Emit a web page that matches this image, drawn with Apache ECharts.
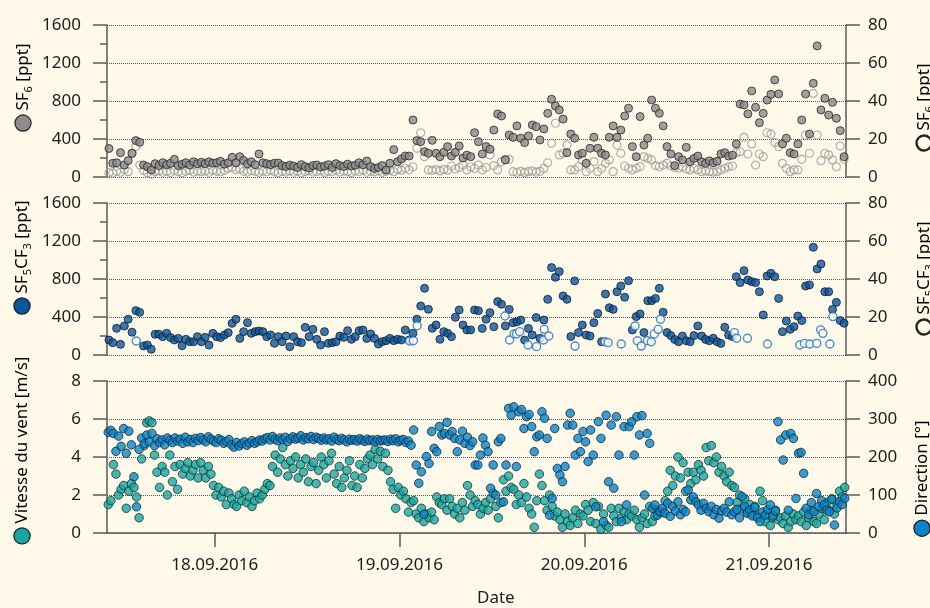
<!DOCTYPE html>
<html>
<head>
<meta charset="utf-8">
<script src="https://cdn.jsdelivr.net/npm/echarts@6/dist/echarts.min.js"></script>
<style>
html,body{margin:0;padding:0;background:#fef9e8;}
#chart{width:930px;height:608px;}
</style>
</head>
<body>
<div id="chart"></div>
<script>
// x values are hours since 17.09.2016 00:00
const START_HOUR = 10;           // 17.09.2016 10:00
const END_HOUR = 106;            // 21.09.2016 10:00
const dateTickHours = [24, 48, 72, 96];
const dateTickLabels = ['18.09.2016', '19.09.2016', '20.09.2016', '21.09.2016'];

// SF6, 30-min values (filled: left axis ppt, open: right axis ppt)
const sf6Filled = [
 300,144,150,256,126,172,249,383,365,126,109,74,140,120,150,130,145,186,120,135,150,128,160,140,
 155,140,160,145,150,165,135,150,207,150,214,175,140,160,130,242,150,140,130,145,147,120,110,125,
 115,100,130,110,95,120,126,105,115,130,100,140,120,110,135,115,125,150,130,168,110,90,100,120,
 74,144,288,161,190,221,221,600,383,372,267,250,386,249,214,260,319,221,260,326,200,230,214,466,
 372,242,320,292,494,664,642,180,442,418,538,408,362,432,548,530,390,506,670,818,748,706,610,256,
 452,408,232,250,144,302,418,302,250,232,418,538,418,494,642,724,320,214,636,336,408,810,724,670,
 538,320,242,120,214,180,312,162,196,220,160,144,170,150,165,242,256,220,230,348,768,758,664,906,
 734,572,670,810,870,1022,874,348,408,256,242,348,600,874,452,986,1380,706,828,652,786,618,488,214
];
const sf6Open = [
 2.3,2.0,3.0,2.5,4.0,2.8,12.5,16.0,6.3,3.5,2.2,1.5,2.8,3.2,2.5,3.0,2.4,3.5,2.8,2.2,3.0,3.6,2.6,3.1,
 2.8,3.2,2.5,3.6,3.0,2.7,3.4,4.6,5.0,3.8,4.4,3.0,2.6,3.3,2.9,2.4,3.1,2.7,3.5,2.8,2.3,3.0,2.6,3.2,
 2.5,3.0,2.2,2.8,3.4,2.6,2.9,3.3,2.4,3.0,2.7,3.5,2.6,3.1,2.8,2.3,3.2,2.9,3.6,2.5,3.0,2.7,3.3,2.4,
 3.0,3.5,2.8,4.0,3.6,4.6,3.8,5.4,15.1,23.3,10.7,3.7,3.5,3.9,3.2,4.0,3.6,5.8,4.2,5.0,6.3,3.7,5.4,4.5,
 6.3,3.7,5.0,11.6,6.0,3.7,8.1,9.3,9.3,2.8,2.5,3.0,2.4,2.8,3.2,2.6,3.0,4.5,7.5,17.7,28.3,11.6,12.5,16.8,
 3.7,3.7,5.4,9.0,2.8,4.6,8.1,2.8,4.6,7.2,9.0,2.8,16.8,12.5,5.8,4.6,3.7,4.6,5.5,10.7,9.8,9.0,6.0,5.4,
 6.3,7.2,5.8,5.0,4.6,5.4,4.2,3.7,4.6,3.7,2.8,3.2,2.8,2.6,2.8,3.7,4.6,5.4,5.8,12.8,13.3,20.9,12.1,17.4,
 6.3,12.1,10.7,23.3,22.6,18.1,16.0,7.2,4.6,2.8,3.7,3.7,9.3,22.1,12.5,44.0,22.1,8.6,12.5,11.6,9.0,5.4,16.3,9.3
];

// SF5CF3, 30-min values (filled: left axis), open points (right axis) at given hours
const cf3Filled = [
 158,130,281,112,305,376,240,467,449,95,105,60,218,218,193,228,183,158,175,98,165,140,140,193,
 140,186,105,228,193,183,211,235,333,376,175,246,340,228,246,253,246,193,211,123,193,140,200,88,
 193,140,130,291,193,270,165,105,246,123,130,140,200,186,256,165,193,256,263,175,221,175,116,140,
 151,175,151,165,158,263,158,228,376,516,702,481,281,316,165,246,228,193,397,474,316,264,264,474,
 466,280,376,446,298,562,534,306,480,340,350,368,158,280,210,394,176,368,586,920,818,878,622,586,
 194,780,236,316,210,200,340,438,140,642,498,480,666,726,608,782,264,404,432,236,572,572,596,702,
 450,236,204,164,140,200,150,140,204,306,200,164,150,176,140,122,292,210,194,824,762,888,790,772,
 762,666,422,832,860,824,596,246,358,270,298,410,362,726,738,1134,906,958,666,666,480,554,362,334
];
const cf3OpenHours = [13.8,49.3,49.8,50.3,61.7,62.3,62.9,63.2,63.6,64.7,65.8,66.7,66.8,67.4,70.8,74.7,75.1,76.8,78.6,78.9,79.4,80.2,80.7,81.1,81.6,81.9,91.5,91.8,93.2,95.8,100.0,100.6,101.3,102.2,102.7,103.0,103.9,104.3];
const cf3OpenValues = [7.4,7.4,7.5,15.4,20.5,7.9,11.1,11.1,12.3,5.3,4.4,7.9,13.5,10.0,4.7,7.0,6.5,5.8,15.3,7.5,4.7,7.5,7.0,11.1,13.5,18.8,11.8,8.8,8.8,5.8,5.3,6.1,5.8,6.1,13.2,11.4,5.8,20.2];

// Wind, 20-min values: speed [m/s] (left axis), direction [deg] (right axis)
const windSpeed = [
 1.5,1.7,3.6,3.1,2.0,2.3,2.5,1.3,2.2,2.6,2.4,1.9,
 0.8,3.9,4.6,5.8,5.9,5.8,4.1,3.2,2.4,3.5,3.2,2.0,
 4.1,2.7,3.5,2.3,3.6,3.1,3.4,3.7,3.0,3.3,3.6,2.9,
 3.7,3.3,2.9,3.5,3.1,2.5,2.0,2.4,1.9,2.2,1.5,2.1,
 1.8,1.5,1.4,2.0,1.7,2.2,1.6,1.9,1.4,1.7,2.1,1.8,
 2.0,2.3,2.6,2.5,3.5,4.1,3.2,3.9,4.5,3.6,3.0,3.8,
 3.4,4.0,2.9,3.6,3.2,3.9,2.7,3.5,3.7,2.6,3.3,4.0,
 3.6,2.9,3.8,4.2,3.1,2.6,3.5,2.4,2.9,3.3,3.8,2.5,
 3.0,2.4,3.6,2.9,3.4,3.9,4.1,3.6,4.4,3.9,4.3,3.5,
 4.2,3.3,2.7,2.3,1.3,2.4,2.0,2.2,1.8,1.1,1.6,1.7,
 1.0,0.8,1.3,0.6,1.0,0.8,1.1,0.7,1.9,1.6,1.5,1.8,
 1.2,1.8,1.4,1.0,1.3,0.8,1.6,1.2,2.5,2.0,1.4,1.7,
 1.5,1.0,1.3,1.6,1.2,1.8,2.1,1.4,0.8,1.6,2.8,2.2,
 3.0,2.4,2.3,1.5,2.0,1.6,2.6,1.9,1.3,1.0,0.3,1.7,
 3.1,2.5,1.7,1.2,2.0,1.4,0.9,1.1,0.7,0.3,1.0,0.6,
 0.4,0.8,1.2,0.5,1.0,0.9,1.5,1.2,0.6,1.6,0.5,1.4,
 0.2,1.0,0.4,0.3,1.3,0.9,0.6,1.3,0.8,1.1,0.7,1.0,
 0.9,1.2,0.7,0.3,0.8,1.0,0.5,1.4,0.6,0.9,1.2,1.1,
 1.1,1.7,2.2,3.3,2.5,3.0,4.0,2.9,3.7,2.2,3.2,2.6,
 3.2,2.8,3.6,3.3,3.0,4.5,3.8,4.6,3.7,4.0,3.2,3.5,
 3.0,2.7,3.2,2.5,2.4,1.6,2.0,1.3,1.8,1.1,1.5,1.0,
 1.4,0.9,2.2,1.7,0.6,1.0,0.4,0.8,1.2,0.7,0.8,0.5,
 0.9,0.3,0.6,1.0,0.7,0.9,0.6,1.1,0.4,0.8,1.2,0.6,
 0.5,1.0,1.3,0.7,1.6,1.2,1.8,1.0,1.5,2.2,1.9,2.4
];
const windDir = [
 265,270,262,215,255,228,275,210,268,232,148,69,
 220,250,235,258,240,262,230,248,238,245,232,250,
 244,238,250,242,247,236,252,240,246,238,249,243,
 251,245,240,253,247,242,238,248,244,236,241,246,
 232,226,238,229,235,240,231,237,243,236,240,245,
 242,248,251,245,254,247,243,250,246,252,241,248,
 253,247,250,256,245,251,248,254,246,252,249,244,
 250,245,248,242,252,246,243,249,245,240,247,244,
 246,242,248,244,241,247,243,245,240,246,242,244,
 245,241,247,243,248,240,244,246,238,242,231,271,
 179,131,161,49,201,183,267,223,214,280,258,262,
 291,258,267,249,214,245,268,236,252,230,240,179,
 179,205,250,231,214,118,179,100,240,249,82,179,
 328,310,332,175,319,325,275,306,312,280,214,253,
 258,319,302,249,47,91,275,170,153,135,175,284,
 315,284,205,249,214,267,240,188,271,205,69,293,
 249,30,310,135,284,118,306,205,30,280,74,280,
 293,205,306,258,309,100,262,236,65,74,47,56,
 65,52,78,44,70,58,82,48,62,56,113,87,
 95,82,74,60,78,65,56,70,48,62,39,58,
 65,55,82,48,56,62,40,96,70,52,60,45,
 68,40,30,55,47,62,74,45,58,293,245,192,
 258,60,262,249,91,210,212,157,65,48,80,56,
 104,70,85,74,60,56,88,21,66,82,75,91
];

const half = (arr) => arr.map((v, i) => [START_HOUR + 0.25 + i * 0.5, v]);
const third = (arr) => arr.map((v, i) => [START_HOUR + 1 / 6 + i / 3, v]);
const pairs = (xs, ys) => xs.map((x, i) => [x, ys[i]]);

const FONT = 'Noto Sans';
const AXIS_COLOR = '#5a5a5a';
const TEXT_COLOR = '#1c1c1c';

function leftAxis(grid, max, interval, minor) {
  return {
    type: 'value', gridIndex: grid, position: 'left', min: 0, max: max, interval: interval,
    axisLine: {show: true, lineStyle: {color: AXIS_COLOR, width: 1.5}},
    axisTick: {show: true, inside: false, length: 14, lineStyle: {color: AXIS_COLOR, width: 1.5}},
    minorTick: {show: minor, splitNumber: 2, length: 7, lineStyle: {color: AXIS_COLOR, width: 1.5}},
    splitLine: {show: true, lineStyle: {color: '#555', width: 1, type: [1, 1]}},
    axisLabel: {margin: 26, fontSize: 17, color: TEXT_COLOR, fontFamily: FONT, formatter: (v) => String(v)}
  };
}
function rightAxis(grid, max, interval) {
  return {
    type: 'value', gridIndex: grid, position: 'right', min: 0, max: max, interval: interval,
    axisLine: {show: true, lineStyle: {color: AXIS_COLOR, width: 1.5}},
    axisTick: {show: true, inside: false, length: 14, lineStyle: {color: AXIS_COLOR, width: 1.5}},
    splitLine: {show: false},
    axisLabel: {margin: 22, fontSize: 17, color: TEXT_COLOR, fontFamily: FONT, formatter: (v) => String(v)}
  };
}
function hiddenX(grid) {
  return {type: 'value', gridIndex: grid, min: START_HOUR, max: END_HOUR,
    axisLine: {show: false}, axisTick: {show: false}, axisLabel: {show: false}, splitLine: {show: false}};
}

function circleToken(fill, border) {
  return {width: 15, height: 15, borderRadius: 7.5, backgroundColor: fill, borderColor: border, borderWidth: 1.2};
}
const baseRich = {
  n: {fontSize: 17, fontFamily: FONT, color: TEXT_COLOR, lineHeight: 22},
  s: {fontSize: 11, fontFamily: FONT, color: TEXT_COLOR, lineHeight: 12, verticalAlign: 'bottom'},
  sp: {width: 5},
  cg: circleToken('#8c8c8c', '#222'),
  co: circleToken('rgba(0,0,0,0)', '#222'),
  cb: circleToken('#0a569f', '#1a1a1a'),
  ct: circleToken('#17a7a0', '#1a1a1a'),
  cd: circleToken('#0a84c8', '#1a1a1a')
};
function vname(x, y, text) {
  return {type: 'text', x: x, y: y, rotation: Math.PI / 2, z: 100,
    style: {text: text, rich: baseRich, align: 'center', verticalAlign: 'middle'}};
}

const chart = echarts.init(document.getElementById('chart'), null, {renderer: 'canvas'});
chart.setOption({
  backgroundColor: '#fef9e8',
  animation: false,
  grid: [
    {left: 107, right: 84, top: 25, height: 152},
    {left: 107, right: 84, top: 203, height: 152},
    {left: 107, right: 84, top: 381, height: 152}
  ],
  xAxis: [
    hiddenX(0), hiddenX(1),
    {type: 'value', gridIndex: 2, min: START_HOUR, max: END_HOUR,
      axisLine: {show: true, lineStyle: {color: AXIS_COLOR, width: 1.5}},
      axisTick: {show: true, inside: false, length: 14, customValues: dateTickHours, lineStyle: {color: AXIS_COLOR, width: 1.5}},
      axisLabel: {show: true, customValues: dateTickHours, margin: 24, fontSize: 17, color: TEXT_COLOR, fontFamily: FONT,
        formatter: (v) => dateTickLabels[dateTickHours.indexOf(v)] || ''},
      splitLine: {show: false}}
  ],
  yAxis: [
    leftAxis(0, 1600, 400, true), rightAxis(0, 80, 20),
    leftAxis(1, 1600, 400, true), rightAxis(1, 80, 20),
    leftAxis(2, 8, 2, false), rightAxis(2, 400, 100)
  ],
  series: [
    {type: 'scatter', name: 'SF6 open', xAxisIndex: 0, yAxisIndex: 1, data: half(sf6Open), symbolSize: 8, z: 2,
      itemStyle: {color: 'rgba(255,255,255,0)', borderColor: '#9c9c9c', borderWidth: 1.2}},
    {type: 'scatter', name: 'SF6', xAxisIndex: 0, yAxisIndex: 0, data: half(sf6Filled), symbolSize: 8, z: 3,
      itemStyle: {color: '#8a8a8a', borderColor: '#262626', borderWidth: 1}},
    {type: 'scatter', name: 'SF5CF3', xAxisIndex: 1, yAxisIndex: 2, data: half(cf3Filled), symbolSize: 8, z: 2,
      itemStyle: {color: '#0a569f', borderColor: '#111c28', borderWidth: 1}},
    {type: 'scatter', name: 'SF5CF3 open', xAxisIndex: 1, yAxisIndex: 3, data: pairs(cf3OpenHours, cf3OpenValues), symbolSize: 8, z: 3,
      itemStyle: {color: '#ffffff', borderColor: '#1f6fc0', borderWidth: 1.4}},
    {type: 'scatter', name: 'Vitesse', xAxisIndex: 2, yAxisIndex: 4, data: third(windSpeed), symbolSize: 8.5, z: 2,
      itemStyle: {color: '#17a7a0', borderColor: '#16302f', borderWidth: 1}},
    {type: 'scatter', name: 'Direction', xAxisIndex: 2, yAxisIndex: 5, data: third(windDir), symbolSize: 8.5, z: 3,
      itemStyle: {color: '#0a84c8', borderColor: '#0f2536', borderWidth: 1}}
  ],
  graphic: [
    vname(23, 87, '{cg| }{sp| }{n|SF}{s|6}{n| [ppt]}'),
    vname(22, 257, '{cb| }{sp| }{n|SF}{s|5}{n|CF}{s|3}{n| [ppt]}'),
    vname(22, 450, '{ct| }{sp| }{n|Vitesse du vent [m/s]}'),
    vname(924, 107, '{co| }{sp| }{n|SF}{s|6}{n| [ppt]}'),
    vname(924, 278, '{co| }{sp| }{n|SF}{s|5}{n|CF}{s|3}{n| [ppt]}'),
    vname(922, 478, '{cd| }{sp| }{n|Direction [°]}'),
    {type: 'text', x: 477, y: 598, z: 100,
      style: {text: 'Date', fontSize: 17, fontFamily: FONT, fill: TEXT_COLOR, align: 'left', verticalAlign: 'middle'}}
  ]
});
</script>
</body>
</html>
